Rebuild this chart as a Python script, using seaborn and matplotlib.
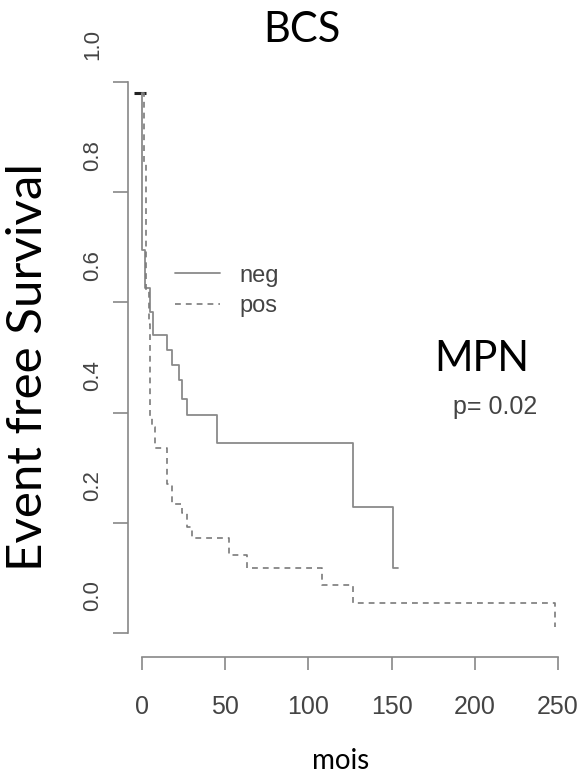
import numpy as np
import pandas as pd
import matplotlib
matplotlib.use("Agg")
import matplotlib.pyplot as plt
from matplotlib.transforms import ScaledTranslation
import seaborn as sns

# ---- data ----
neg_time = [0, 0.3, 2, 5, 6.5, 15, 18, 22, 24, 27, 45, 127, 151, 154]
neg_surv = [0.98, 0.695, 0.626, 0.583, 0.541, 0.514, 0.486, 0.459, 0.425, 0.396, 0.345, 0.229, 0.118, 0.118]
pos_time = [0, 1, 2.5, 4, 5, 6, 8, 15, 18, 24, 27, 30, 52, 63, 108, 127, 248]
pos_surv = [0.98, 0.855, 0.62, 0.56, 0.392, 0.374, 0.336, 0.27, 0.235, 0.217, 0.193, 0.172, 0.141, 0.118, 0.087, 0.054, 0.011]
censor_time = [-1.5]
censor_surv = [0.98]
x_ticks = [0, 50, 100, 150, 200, 250]
y_ticks = [0.0, 0.2, 0.4, 0.6, 0.8, 1.0]
y_ticklabels = ["0.0", "0.2", "0.4", "0.6", "0.8", "1.0"]
series_labels = ["neg", "pos"]

sns.set_theme(style="white")
plt.rcParams["font.family"] = ["Liberation Sans", "DejaVu Sans"]

W, H = 583, 776
fig = plt.figure(figsize=(W / 100, H / 100), dpi=100)
ax = fig.add_axes([128 / W, 1 - 657 / H, (570 - 128) / W, (657 - 75) / H])

neg_df = pd.DataFrame({"t": neg_time, "s": neg_surv})
pos_df = pd.DataFrame({"t": pos_time, "s": pos_surv})

sns.lineplot(data=neg_df, x="t", y="s", ax=ax, estimator=None, sort=False,
             drawstyle="steps-post", color="#8a8a8a", linewidth=1.3,
             label=series_labels[0])
sns.lineplot(data=pos_df, x="t", y="s", ax=ax, estimator=None, sort=False,
             drawstyle="steps-post", color="#7a7a7a", linewidth=1.2,
             linestyle=(0, (3.5, 3.0)), label=series_labels[1])
sns.scatterplot(x=censor_time, y=censor_surv, ax=ax, marker="_", s=80,
                color="#222222", linewidth=2.2, legend=False)

ax.set_xlim((128 - 142) / 1.664, (570 - 142) / 1.664)
ax.set_ylim((633 - 657) / 551, (633 - 75) / 551)

for side in ["top", "right"]:
    ax.spines[side].set_visible(False)
for side in ["left", "bottom"]:
    ax.spines[side].set_color("#888888")
    ax.spines[side].set_linewidth(1.2)
ax.spines["left"].set_bounds(0, 1)
ax.spines["bottom"].set_bounds(0, 250)

ax.set_xticks(x_ticks)
ax.set_xticklabels([str(v) for v in x_ticks])
ax.set_yticks(y_ticks)
ax.set_yticklabels(y_ticklabels)
ax.tick_params(axis="x", length=9.4, width=1.2, color="#888888", pad=18,
               labelsize=18, labelcolor="#444444", direction="out", bottom=True)
ax.tick_params(axis="y", length=10.8, width=1.2, color="#888888", pad=7,
               labelsize=16, labelcolor="#444444", direction="out", left=True,
               labelrotation=90)
ax.set_xlabel("")
ax.set_ylabel("")
for lab in ax.get_yticklabels():
    lab.set_va("center")

offset = ScaledTranslation(0, 37 / 100, fig.dpi_scale_trans)
for tk in ax.yaxis.get_major_ticks():
    tk.label1.set_transform(tk.label1.get_transform() + offset)

leg = ax.legend(loc="center left", bbox_to_anchor=(175 / W, 1 - 291 / H),
                bbox_transform=fig.transFigure, frameon=False, fontsize=17,
                handlelength=1.9, handletextpad=0.85, labelspacing=0.38,
                borderpad=0, borderaxespad=0)
for t in leg.get_texts():
    t.set_color("#444444")

title_font = ["Lato", "DejaVu Sans"]
fig.text(302 / W, 1 - 30 / H, "BCS", fontsize=30, family=title_font,
         ha="center", va="center", color="black")
fig.text(482 / W, 1 - 359 / H, "MPN", fontsize=30, family=title_font,
         ha="center", va="center", color="black")
fig.text(453 / W, 1 - 407 / H, "p= 0.02", fontsize=18, ha="left",
         va="center", color="#444444")
fig.text(28 / W, 1 - 367 / H, "Event free Survival", fontsize=35.5,
         family=title_font, rotation=90, ha="center", va="center", color="black")
fig.text(341 / W, 1 - 761 / H, "mois", fontsize=20, family=title_font,
         ha="center", va="center", color="black")

fig.savefig("out.png", dpi=100)
